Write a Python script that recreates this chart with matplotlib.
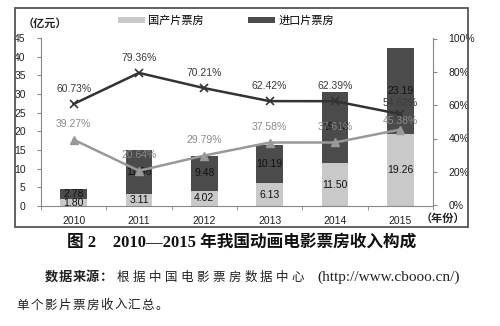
import matplotlib
matplotlib.use("Agg")
import matplotlib.pyplot as plt
import matplotlib.patches as mpatches
import numpy as np

years = ["2010", "2011", "2012", "2013", "2014", "2015"]
domestic = [1.80, 3.11, 4.02, 6.13, 11.50, 19.26]
imported = [2.78, 11.96, 9.48, 10.19, 19.13, 23.19]
imported_share = [60.73, 79.36, 70.21, 62.42, 62.39, 54.62]
domestic_share = [39.27, 20.64, 29.79, 37.58, 37.61, 45.38]
left_ticks = [0, 5, 10, 15, 20, 25, 30, 35, 40, 45]
right_ticks = [0, 20, 40, 60, 80, 100]

CJK = ["Noto Sans CJK SC", "DejaVu Sans"]
NUM = ["Liberation Sans", "Noto Sans CJK SC"]
SERIF = ["Liberation Serif", "Noto Sans CJK SC"]

light = "#c9c9c9"
dark = "#4b4b4b"
lgray = "#999999"

fig = plt.figure(figsize=(5, 3.26), dpi=100)
ax = fig.add_axes([41/500, 1-206/326, 392/500, 168/326])
x = np.arange(len(years))
w = 0.41
b1 = ax.bar(x, domestic, w, color=light, zorder=2, label="国产片票房")
b2 = ax.bar(x, imported, w, bottom=domestic, color=dark, zorder=2, label="进口片票房")
ax.set_xlim(-0.5, len(years) - 0.5)
ax.set_ylim(0, 45)
ax.set_yticks(left_ticks)
ax.set_yticklabels([str(t) for t in left_ticks], family=NUM, fontsize=7.5, color="#222222")
ax.set_xticks(x)
ax.set_xticklabels(years, family=NUM, fontsize=7.5, color="#222222")
ax.set_xticks(np.arange(len(years) + 1) - 0.5, minor=True)
ax.tick_params(axis="x", which="major", length=0, pad=7)
ax.tick_params(axis="x", which="minor", length=3, color="#888888")
ax.tick_params(axis="y", length=3, color="#888888", pad=8)
for s in ["top", "right"]:
    ax.spines[s].set_visible(False)
for s in ["left", "bottom"]:
    ax.spines[s].set_color("#888888")
    ax.spines[s].set_linewidth(0.8)

for i in range(len(years)):
    ax.text(x[i], domestic[i] / 2 if domestic[i] > 2.5 else 0.9, f"{domestic[i]:.2f}",
            ha="center", va="center", fontsize=7.5, family=NUM, color="#111111", zorder=5)
    ax.text(x[i], domestic[i] + imported[i] / 2, f"{imported[i]:.2f}",
            ha="center", va="center", fontsize=7.5, family=NUM, color="#111111", zorder=5)

ax2 = ax.twinx()
ax2.set_ylim(-0.5, 100.3)
ax2.plot(x, imported_share, color="#333333", lw=1.8, marker="x", ms=6, mew=1.2, zorder=3)
ax2.plot(x, domestic_share, color=lgray, lw=1.8, marker="^", ms=6, zorder=3)
n = len(years)
for i in range(n):
    off_b = 11 if i < n - 1 else 8
    off_g = 11 if i < n - 1 else 6
    ax2.annotate(f"{imported_share[i]:.2f}%", (x[i], imported_share[i]), xytext=(0, off_b),
                 textcoords="offset points", ha="center", va="center", fontsize=7.5,
                 family=NUM, color="#3a3a3a")
    ax2.annotate(f"{domestic_share[i]:.2f}%", (x[i], domestic_share[i]), xytext=(0, off_g),
                 textcoords="offset points", ha="center", va="center", fontsize=7.5,
                 family=NUM, color="#8a8a8a")
ax2.set_yticks(right_ticks)
ax2.set_yticklabels([f"{t}%" for t in right_ticks], family=NUM, fontsize=7.5, color="#222222")
ax2.tick_params(axis="y", length=3, color="#888888", pad=8)
for s in ["top", "left", "bottom"]:
    ax2.spines[s].set_visible(False)
ax2.spines["right"].set_color("#888888")
ax2.spines["right"].set_linewidth(0.8)

ax.legend(handles=[b1, b2], loc="center", bbox_to_anchor=(226/500, 1-21/326),
          bbox_transform=fig.transFigure, ncol=2, frameon=False, prop={"family": CJK, "size": 8},
          handlelength=2.4, handleheight=0.5, columnspacing=4.0, handletextpad=0.3)

fig.text(45/500, 1-23/326, "（亿元）", family=CJK, fontsize=8, fontweight="bold",
         ha="center", va="center", color="#222222")
fig.text(443/500, 1-218/326, "（年份）", family=CJK, fontsize=8, fontweight="bold",
         ha="center", va="center", color="#222222")

frame = mpatches.Rectangle((15/500, 1-227/326), 453/500, 219/326, transform=fig.transFigure,
                           fill=False, edgecolor="#555555", lw=1.3)
fig.patches.append(frame)

fig.text(242/500, 1-243/326, "图 2　2010—2015 年我国动画电影票房收入构成", family=SERIF,
         fontsize=12, fontweight="bold", ha="center", va="center", color="#111111")


def spaced(s, x0, x1, y, size, **kw):
    pitch = (x1 - x0) / len(s)
    for k, ch in enumerate(s):
        fig.text((x0 + pitch * (k + 0.5)) / 500, 1 - y / 326, ch, family=CJK, fontsize=size,
                 ha="center", va="center", color="#222222", **kw)


spaced("数据来源：", 45, 113, 277, 9.5, fontweight="bold")
spaced("根据中国电影票房数据中心", 115, 306, 277, 9)
fig.text(317/500, 1-277/326, "(http://www.cbooo.cn/)", family=SERIF, fontsize=11,
         ha="left", va="center", color="#222222")
spaced("单个影片票房收入汇总。", 16, 169, 305, 9)

fig.savefig("out.png", dpi=100)
